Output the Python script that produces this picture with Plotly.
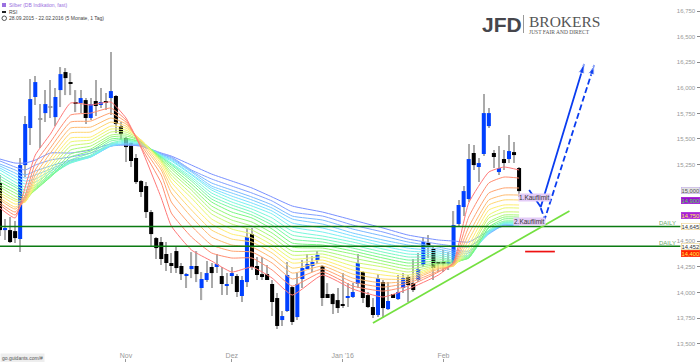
import plotly.graph_objects as go

sessions = list(range(104))
highs = [15148,14718,14737,14698,15314,15724,16086,16115,15841,15978,16076,15998,16203,16193,16144,15978,15978,15900,15900,16076,15998,15949,16349,15929,15665,15519,15470,15353,15099,15079,14806,14542,14542,14493,14386,14444,14288,14190,14395,14405,14200,14307,14288,14376,14249,14190,14249,14180,
         14161,14630,14630,14347,14347,14268,14122,13995,13819,14298,14063,14190,14317,14376,14356,14405,14268,14092,13995,14044,14190,14092,14092,14376,14210,14005,13946,14180,14122,14102,13985,14171,14190,14171,14327,14386,14542,14561,14454,14298,14415,14395,14796,14904,15040,15451,15441,15314,15939,15802,15392,15431,15392,15538,15470,15226]
lows = [14552,14513,14483,14483,14395,15128,15441,15832,15412,15665,15705,15626,15812,15929,15929,15763,15753,15646,15685,15724,15802,15783,15734,15558,15490,15275,15226,15060,14933,14728,14444,14327,14268,14210,14190,14190,14122,14044,14141,14102,13926,14102,14044,14190,13975,13975,14083,13956,
        13907,14053,14220,14122,14122,14122,13770,13643,13673,13809,13682,13731,14044,14229,14200,14278,13868,13946,13790,13799,13848,13858,13946,14044,13897,13848,13750,13760,13750,13829,13946,13926,13995,13907,14005,14102,14249,14337,14122,14200,14200,14220,14268,14640,14747,14884,15197,15079,15333,15607,15216,15148,15197,15265,15265,14933]
opens = [15070,14610,14610,14600,14523,15245,15607,15910,15690,15753,15807,15714,15978,16154,16056,15861,15851,15880,15705,15871,15832,15871,15900,15920,15626,15509,15460,15314,15089,15040,14786,14532,14493,14376,14288,14405,14259,14171,14229,14259,14044,14122,14249,14249,14161,14073,14171,14161,
         13966,14102,14571,14259,14180,14180,14083,13946,13731,13819,14053,13760,14132,14229,14259,14317,14259,13985,13985,13926,13887,13946,13956,14083,14200,13975,13858,13780,14102,13838,13985,13936,14044,14151,14092,14122,14268,14483,14425,14298,14298,14288,14288,14669,14835,14913,15363,15226,15353,15626,15363,15177,15304,15304,15372,15216]
closes = [14610,14630,14493,14532,15245,15646,15890,16056,15690,15841,15807,15910,16134,16095,16046,15851,15900,15705,15841,15822,15861,15861,15968,15646,15548,15421,15285,15079,14982,14786,14571,14434,14327,14288,14259,14239,14180,14180,14259,14180,14132,14190,14190,14278,14083,14083,14190,14005,
          14122,14542,14249,14171,14161,14122,13907,13673,13770,14171,13712,14083,14239,14278,14298,14366,13946,13946,13887,13848,13877,13966,14005,14288,13946,13858,13780,14141,13848,13917,13946,14005,14141,14073,14024,14229,14493,14473,14239,14288,14288,14298,14659,14855,14991,15304,15245,15265,15753,15753,15324,15216,15265,15382,15343,14991]

ribbon_sessions = [0,3,5,7,10,14,18,22,25,28,32,34,38,42,46,50,54,58,64,70,76,81,87,90,93,97,100,103]
ribbon_rows = [
 [14825,14855,14874,14904,14923,14952,14972,15001,15030,15050,15079,15109,15138,15167,15197,15216,15236,15255,15285,15304],
 [14728,14757,14786,14815,14835,14864,14894,14913,14942,14972,15001,15030,15050,15079,15109,15138,15167,15197,15226,15265],
 [15030,14952,14923,14904,14894,14884,14884,14894,14904,14923,14942,14972,15001,15030,15060,15089,15118,15148,15197,15265],
 [15343,15265,15197,15148,15109,15079,15050,15030,15011,15001,15001,15011,15030,15050,15079,15109,15148,15187,15245,15294],
 [15548,15470,15412,15363,15314,15275,15236,15206,15177,15148,15128,15128,15138,15148,15167,15187,15206,15236,15294,15363],
 [15851,15734,15665,15607,15558,15509,15470,15431,15392,15353,15324,15294,15275,15265,15265,15275,15285,15294,15324,15363],
 [15832,15753,15675,15616,15568,15519,15490,15460,15431,15402,15382,15363,15343,15333,15324,15324,15324,15333,15363,15392],
 [15861,15802,15753,15705,15665,15626,15597,15568,15538,15519,15499,15480,15460,15451,15441,15431,15431,15431,15431,15451],
 [15705,15685,15665,15646,15626,15607,15587,15568,15548,15529,15509,15499,15490,15480,15470,15460,15451,15451,15441,15441],
 [15412,15421,15441,15460,15480,15490,15490,15490,15480,15480,15470,15470,15460,15460,15451,15451,15441,15441,15431,15431],
 [14923,15070,15148,15197,15226,15255,15275,15285,15294,15304,15314,15324,15324,15333,15333,15343,15343,15353,15353,15363],
 [14649,14776,14884,14972,15030,15079,15118,15148,15177,15206,15226,15245,15255,15265,15285,15294,15304,15314,15324,15333],
 [14415,14542,14649,14737,14806,14864,14923,14962,15001,15030,15060,15089,15109,15128,15148,15157,15177,15187,15197,15245],
 [14307,14386,14464,14542,14610,14669,14718,14767,14806,14845,14884,14913,14942,14972,15001,15021,15040,15070,15109,15157],
 [14200,14337,14405,14464,14522,14571,14620,14669,14708,14747,14786,14825,14855,14884,14913,14942,14972,15001,15040,15089],
 [14249,14337,14395,14444,14493,14532,14571,14610,14649,14688,14728,14757,14786,14815,14845,14874,14904,14933,14972,15021],
 [14141,14220,14288,14337,14386,14425,14464,14503,14542,14581,14620,14659,14688,14728,14767,14796,14825,14855,14894,14933],
 [13975,14063,14132,14190,14239,14288,14327,14366,14405,14444,14483,14522,14561,14600,14640,14679,14718,14747,14786,14845],
 [14171,14200,14229,14259,14288,14317,14347,14376,14405,14434,14464,14493,14522,14552,14591,14630,14669,14708,14747,14786],
 [14034,14063,14102,14141,14180,14220,14259,14298,14337,14376,14405,14434,14464,14493,14522,14552,14581,14620,14659,14708],
 [13956,14014,14053,14092,14132,14171,14210,14249,14278,14307,14337,14366,14395,14425,14454,14483,14513,14552,14591,14630],
 [14034,14063,14092,14112,14132,14151,14171,14200,14229,14259,14288,14317,14347,14376,14405,14434,14464,14493,14522,14561],
 [14171,14200,14210,14229,14239,14249,14259,14268,14278,14288,14307,14327,14347,14366,14386,14405,14425,14444,14474,14513],
 [14298,14288,14278,14268,14259,14259,14259,14268,14278,14288,14298,14307,14317,14337,14356,14376,14395,14415,14454,14503],
 [14874,14737,14640,14571,14513,14464,14425,14395,14366,14347,14337,14337,14337,14347,14356,14366,14386,14405,14444,14493],
 [15177,15070,14972,14904,14855,14806,14757,14728,14688,14669,14640,14630,14610,14600,14591,14581,14581,14571,14581,14600],
 [15226,15128,15021,14952,14904,14855,14825,14786,14757,14737,14718,14698,14688,14679,14679,14669,14669,14659,14659,14649],
 [15197,15118,15021,14952,14904,14855,14825,14786,14757,14737,14718,14698,14688,14679,14669,14659,14649,14649,14649,14659],
]
ribbon_colors = ["#ff7878","#ff8c70","#ffa470","#ffbc70","#ffd670","#ffee70","#eaf870","#ccf870","#aaf878","#90f878",
                 "#78f880","#78f8a0","#78f8c4","#78f8dc","#78f0f0","#78e0ff","#78ccff","#78b8ff","#80a0ff","#7890ff"]

x_ticks = [25, 46, 68, 88]
x_labels = ["Nov", "Dez", "Jan '16", "Feb"]
y_ticks = [13500,13750,14000,14250,14500,15250,15500,15750,16000,16250,16500,16750]

support_levels = [14645, 14452]
support_x = [0, 135]
trend_x, trend_y = [74, 113], [13702, 14796]
solid_x, solid_y = [105, 107.3, 115.9], [15001, 14835, 16232]
dash_x, dash_y = [107.3, 108.1, 117.9], [14825, 14718, 16222]
stop_x, stop_y = [104.2, 110.1], [14400, 14400]

tags = [
    ("15,000", 15000, "#e4e4e4", "#b9a0e8", "#555555"),
    ("14,900", 14900, "#9a10d0", "#9a10d0", "#50e050"),
    ("14,750", 14750, "#a820d8", "#a820d8", "#ffee55"),
    ("14,645", 14645, "#ffffff", "#e8c870", "#333333"),
    ("14,452", 14452, "#ffffff", "#e8c870", "#333333"),
    ("14,400", 14380, "#ff2200", "#ff2200", "#ffee55"),
]

fig = go.Figure()
base = [min(o, c) for o, c in zip(opens, closes)]
height = [max(abs(c - o), 10) for o, c in zip(opens, closes)]
colors = ["#0040ff" if c > o else "#000000" if c < o else "#999999" for o, c in zip(opens, closes)]
fig.add_bar(x=sessions, y=[h - l for h, l in zip(highs, lows)], base=lows, width=0.24,
            marker=dict(color="#aaaaaa", line_width=0), hoverinfo="skip")
fig.add_bar(x=sessions, y=height, base=base, width=0.8,
            marker=dict(color=colors, line_width=0), hoverinfo="skip")

for i in range(19, -1, -1):
    fig.add_scatter(x=ribbon_sessions, y=[row[i] for row in ribbon_rows], mode="lines",
                    line=dict(color=ribbon_colors[i], width=1, shape="spline", smoothing=0.45),
                    hoverinfo="skip")

for lvl in support_levels:
    fig.add_scatter(x=support_x, y=[lvl, lvl], mode="lines", line=dict(color="#0b7a12", width=1.6), hoverinfo="skip")
fig.add_scatter(x=trend_x, y=trend_y, mode="lines", line=dict(color="#74e040", width=1.7), hoverinfo="skip")
fig.add_scatter(x=stop_x, y=stop_y, mode="lines", line=dict(color="#ee1111", width=1.7), hoverinfo="skip")
fig.add_scatter(x=solid_x, y=solid_y, mode="lines+markers",
                line=dict(color="#0a3cf0", width=1.8),
                marker=dict(symbol="arrow", size=[0, 0, 10], angleref="previous", color="#0a3cf0"), hoverinfo="skip")
fig.add_scatter(x=dash_x, y=dash_y, mode="lines+markers",
                line=dict(color="#0a3cf0", width=1.8, dash="6px,3px"),
                marker=dict(symbol="arrow", size=[0, 0, 10], angleref="previous", color="#0a3cf0"), hoverinfo="skip")

ann = []
for text, y, bg, bd, fc in tags:
    ann.append(dict(x=1.0, xref="paper", y=y, yref="y", text=text, showarrow=False, xanchor="right",
                    bgcolor=bg, bordercolor=bd, borderwidth=0.5, borderpad=0,
                    font=dict(size=5.8, color=fc, family="Liberation Sans")))
for y in support_levels:
    ann.append(dict(x=134.5, y=y, yshift=3, text="DAILY", showarrow=False, xanchor="right",
                    font=dict(size=6, color="#6aa86a", family="Liberation Sans")))
for text, x, y in [("1.Kauflimit", 102.7, 14925), ("2.Kauflimit", 101.7, 14695)]:
    ann.append(dict(x=x, y=y, text=text, showarrow=False, xanchor="left", bgcolor="#e4ccf8", borderpad=0,
                    font=dict(size=6.5, color="#333333", family="Liberation Sans")))
for text, y, col in [("Silber (DB Indikation, fast)", 5, "#9a70e0"), ("RSI", 11.5, "#444444"),
                     ("28.09.2015 - 22.02.2016 (5 Monate, 1 Tag)", 18, "#444444")]:
    ann.append(dict(x=7/700, xref="paper", y=1 - y/362, yref="paper", text=text, showarrow=False,
                    xanchor="left", yanchor="middle", font=dict(size=5, color=col, family="Liberation Sans")))
ann.append(dict(x=0, xref="paper", y=4.5/362, yref="paper", text="go.guidants.com/#", showarrow=False, xanchor="left",
                yanchor="middle", bgcolor="#eeeeee", borderpad=1, font=dict(size=5, color="#555555", family="Liberation Sans")))
ann.append(dict(x=480/700, xref="paper", y=1 - 24/362, yref="paper", text="<b>JFD</b>", showarrow=False, xanchor="left",
                yanchor="middle", font=dict(size=21, color="#46464c", family="Liberation Sans")))
ann.append(dict(x=527/700, xref="paper", y=1 - 22/362, yref="paper", text="BROKERS", showarrow=False, xanchor="left",
                yanchor="middle", font=dict(size=15.5, color="#555555", family="Liberation Serif")))
ann.append(dict(x=527/700, xref="paper", y=1 - 31.5/362, yref="paper", text="JUST FAIR AND DIRECT", showarrow=False, xanchor="left",
                yanchor="middle", font=dict(size=5.5, color="#555555", family="Liberation Serif")))

shapes = [
    dict(type="rect", xref="paper", yref="paper", x0=523/700, x1=524/700, y0=1-33/362, y1=1-15/362, fillcolor="#999999", line_width=0),
    dict(type="rect", xref="paper", yref="paper", x0=2/700, x1=6/700, y0=1-7/362, y1=1-3/362, fillcolor="#9a70e0", line_width=0),
    dict(type="rect", xref="paper", yref="paper", x0=2/700, x1=6/700, y0=1-13/362, y1=1-11/362, fillcolor="#222222", line_width=0),
    dict(type="circle", xref="paper", yref="paper", x0=2/700, x1=6.5/700, y0=1-20.5/362, y1=1-16/362, line=dict(color="#555555", width=1)),
]

fig.update_layout(
    width=700, height=362, margin=dict(l=0, r=0, t=0, b=0), paper_bgcolor="white", plot_bgcolor="white",
    showlegend=False, barmode="overlay", annotations=ann, shapes=shapes,
    xaxis=dict(range=[0, 138.9], tickvals=x_ticks, ticktext=x_labels, ticks="inside", ticklen=3, tickcolor="#999999",
               ticklabelposition="inside", ticklabelstandoff=-2, tickfont=dict(size=7, color="#999999", family="Liberation Sans"),
               showgrid=False, zeroline=False, showline=True, linecolor="#aaaaaa", linewidth=1.5),
    yaxis=dict(range=[13321, 16858], side="right", tickvals=y_ticks, tickformat=",", ticks="inside", ticklen=3,
               tickcolor="#888888", ticklabelposition="inside", tickfont=dict(size=6, color="#999999", family="Liberation Sans"),
               showgrid=False, zeroline=False, showline=False),
)
fig.write_html("out.html", config=dict(displayModeBar=False), post_script="document.body.style.margin='0';")
